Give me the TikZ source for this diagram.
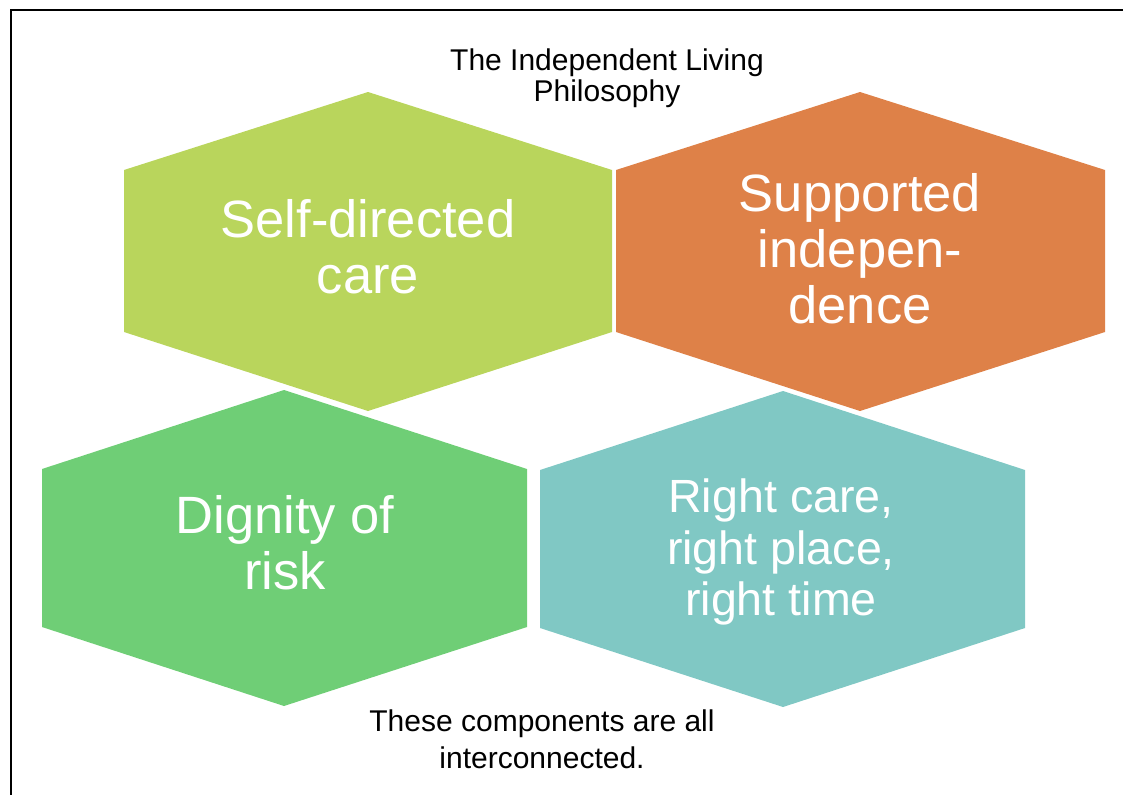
\documentclass[tikz,border=0pt]{standalone}
\usepackage{fontspec}
\setmainfont{Liberation Sans}
\definecolor{limehex}{HTML}{B9D55C}
\definecolor{orangehex}{HTML}{DE8148}
\definecolor{greenhex}{HTML}{6FCE76}
\definecolor{tealhex}{HTML}{80C8C4}
\begin{document}
\begin{tikzpicture}[x=1pt, y=-1pt,
		hextext/.style={text=white, align=center, inner sep=0pt, font=\fontsize{52.5}{56}\selectfont},
		plaintext/.style={text=black, align=center, inner sep=0pt}]
			\useasboundingbox (0, 0) rectangle (1123, 795);

			% frame, only top and left edges are in view
			\draw [line width=2pt] (1123, 10) -- (10.5, 10) -- (10.5, 795);

			% the four hexagons
			\fill [limehex] (368, 92) -- ++(244, 78) -- ++(0, 162) -- ++(-244, 79)
				-- ++(-244, -79) -- ++(0, -162) -- cycle;
			\fill [orangehex] (860, 92) -- ++(245, 78) -- ++(0, 162) -- ++(-245, 79)
				-- ++(-244, -79) -- ++(0, -162) -- cycle;
			\fill [greenhex] (284, 390) -- ++(243, 79) -- ++(0, 158) -- ++(-243, 79)
				-- ++(-242, -79) -- ++(0, -158) -- cycle;
			\fill [tealhex] (783, 391) -- ++(242, 79) -- ++(0, 158) -- ++(-242, 79)
				-- ++(-243, -79) -- ++(0, -158) -- cycle;

			\node [hextext] (selfcare) at (368, 246.5) {Self-directed\\care};
			\node [hextext] (support) at (860, 248.5) {Supported\\indepen-\\dence};
			\node [hextext] (dignity) at (285, 542.5) {Dignity of\\risk};
			\node [hextext, font=\fontsize{46.6}{51.5}\selectfont] (righttime) at (781, 552.2)
				{Right care,\\right place,\\right time};

			\node [plaintext, font=\fontsize{30}{31}\selectfont] (title) at (607, 78)
				{The Independent Living\\Philosophy};
			\node [plaintext, font=\fontsize{30}{37}\selectfont] (footer) at (542, 739.3)
				{These components are all\\interconnected.};
		\end{tikzpicture}
\end{document}
